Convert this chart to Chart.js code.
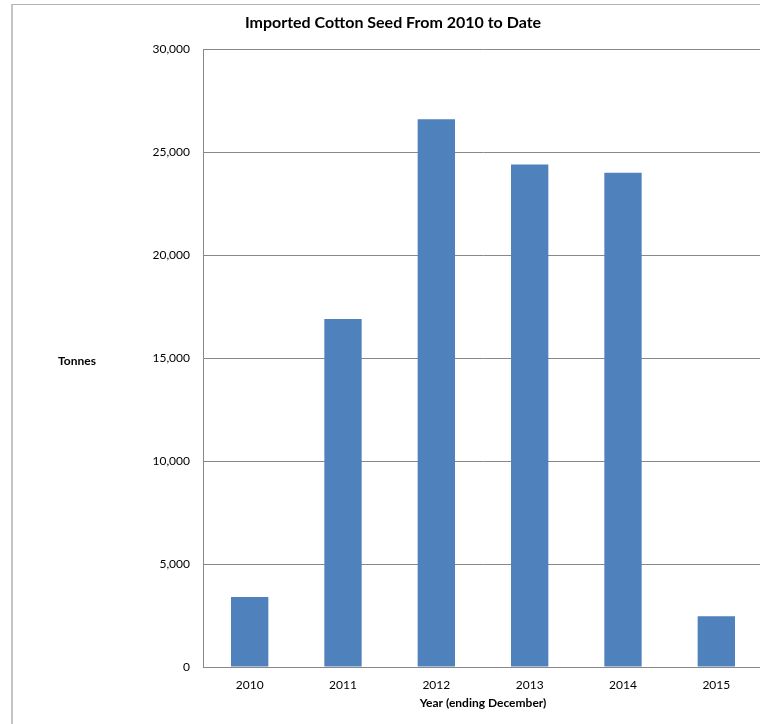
<!DOCTYPE html>
<html>
<head>
<meta charset="utf-8">
<script src="https://cdn.jsdelivr.net/npm/chart.js@4/dist/chart.umd.min.js"></script>
<style>
  html, body { margin: 0; padding: 0; background: #fff; overflow: hidden; }
  .frame { position: absolute; left: 11px; top: 4px; width: 800px; height: 800px;
           border-left: 2px solid #c4c4c4; border-top: 1px solid #b4b4b4; }
  .wrap { position: absolute; left: 0; top: 0; width: 763px; height: 724px; }
</style>
</head>
<body>
<div class="frame"></div>
<div class="wrap"><canvas id="chart"></canvas></div>
<script>
const years = ['2010', '2011', '2012', '2013', '2014', '2015'];
const tonnes = [3400, 16900, 26600, 24400, 24000, 2470];
const yTicks = [0, 5000, 10000, 15000, 20000, 25000, 30000];

const FONT = 'Lato, "Open Sans", sans-serif';
const GRID = '#888888';

// horizontal "Tonnes" label left of the axis
const sideLabel = {
    id: 'sideLabel',
    afterDraw(chart) {
        const { ctx, chartArea } = chart;
        ctx.save();
        ctx.font = 'bold 12px ' + FONT;
        ctx.fillStyle = '#000';
        ctx.textAlign = 'center';
        ctx.textBaseline = 'middle';
        ctx.fillText('Tonnes', 77, (chartArea.top + chartArea.bottom) / 2 + 3);
        ctx.restore();
    }
};

new Chart(document.getElementById('chart'), {
    type: 'bar',
    data: {
        labels: years,
        datasets: [{
            data: tonnes,
            backgroundColor: '#4f81bd',
            categoryPercentage: 1,
            barPercentage: 0.4
        }]
    },
    options: {
        responsive: true,
        maintainAspectRatio: false,
        animation: false,
        layout: { padding: { left: 23, right: 0, top: 0, bottom: 0 } },
        plugins: {
            legend: { display: false },
            tooltip: { enabled: false },
            title: {
                display: true,
                text: 'Imported Cotton Seed From 2010 to Date',
                color: '#000',
                font: { family: FONT, size: 16, weight: 'bold' },
                padding: { top: 13, bottom: 17 }
            }
        },
        scales: {
            x: {
                grid: { display: false, drawTicks: false },
                border: { color: GRID, width: 1 },
                ticks: { color: '#000', font: { family: FONT, size: 12 }, padding: 11 },
                title: {
                    display: true,
                    text: 'Year (ending December)',
                    color: '#000',
                    font: { family: FONT, size: 12, weight: 'bold' },
                    padding: { top: 0, bottom: 14 }
                },
                afterFit(scale) { scale.height = 57; }
            },
            y: {
                min: 0,
                max: 30000,
                afterBuildTicks(scale) { scale.ticks = yTicks.map(v => ({ value: v })); },
                grid: { color: GRID, drawTicks: false },
                border: { color: GRID, width: 1 },
                ticks: {
                    color: '#000',
                    font: { family: FONT, size: 12 },
                    padding: 13,
                    callback: v => v.toLocaleString('en-US')
                },
                afterFit(scale) { scale.width = 180; }
            }
        }
    },
    plugins: [sideLabel]
});
</script>
</body>
</html>
